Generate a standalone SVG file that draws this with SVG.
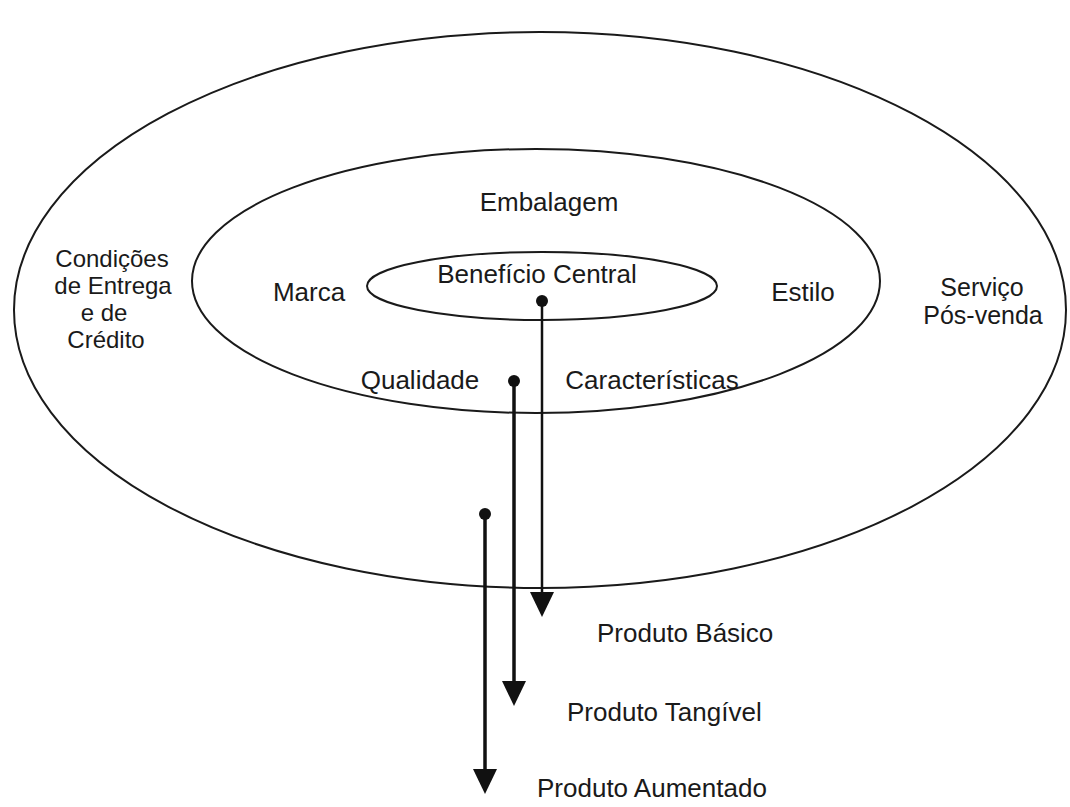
<svg xmlns="http://www.w3.org/2000/svg" width="1070" height="807" viewBox="0 0 1070 807">
<style>
.ring{fill:none;stroke:#1a1a1a;stroke-width:2}
.t{font-family:"Liberation Sans",Arial,sans-serif;font-size:26px;fill:#1a1a1a}
.s{font-size:24px}
.s2{font-size:25px}
.m{text-anchor:middle}
.ln{stroke:#111;fill:none}
.dot{fill:#111}
.head{fill:#111}
</style>
<rect width="1070" height="807" fill="#fff"/>
<g id="outer">
<ellipse class="ring" cx="540" cy="310" rx="526" ry="278"/>
<text class="t s m" x="112" y="267">Condições</text>
<text class="t s m" x="113" y="294">de Entrega</text>
<text class="t s m" x="104" y="321">e de</text>
<text class="t s m" x="106" y="348">Crédito</text>
<text class="t s2 m" x="982" y="296">Serviço</text>
<text class="t s2 m" x="983" y="324">Pós-venda</text>
</g>
<g id="middle">
<ellipse class="ring" cx="536" cy="281" rx="344" ry="132"/>
<text class="t m" x="549" y="211">Embalagem</text>
<text class="t m" x="309" y="301">Marca</text>
<text class="t m" x="803" y="301">Estilo</text>
<text class="t m" x="420" y="389">Qualidade</text>
<text class="t m" x="652" y="389">Características</text>
</g>
<g id="inner">
<ellipse class="ring" cx="542" cy="286" rx="175" ry="34"/>
<text class="t m" x="537" y="283">Benefício Central</text>
</g>
<g id="connectors">
<circle class="dot" cx="542" cy="301" r="6"/>
<line class="ln" x1="542" y1="301" x2="542" y2="596" stroke-width="2.5"/>
<polygon class="head" points="530,592 554,592 542,617"/>
<circle class="dot" cx="514" cy="381" r="6"/>
<line class="ln" x1="514" y1="381" x2="514" y2="684" stroke-width="3.5"/>
<polygon class="head" points="502,681 526,681 514,706"/>
<circle class="dot" cx="485" cy="514" r="6"/>
<line class="ln" x1="485" y1="514" x2="485" y2="772" stroke-width="3.5"/>
<polygon class="head" points="473,769 497,769 485,794"/>
</g>
<g id="labels">
<text class="t" x="597" y="642">Produto Básico</text>
<text class="t" x="567" y="721">Produto Tangível</text>
<text class="t" x="537" y="797">Produto Aumentado</text>
</g>
</svg>
